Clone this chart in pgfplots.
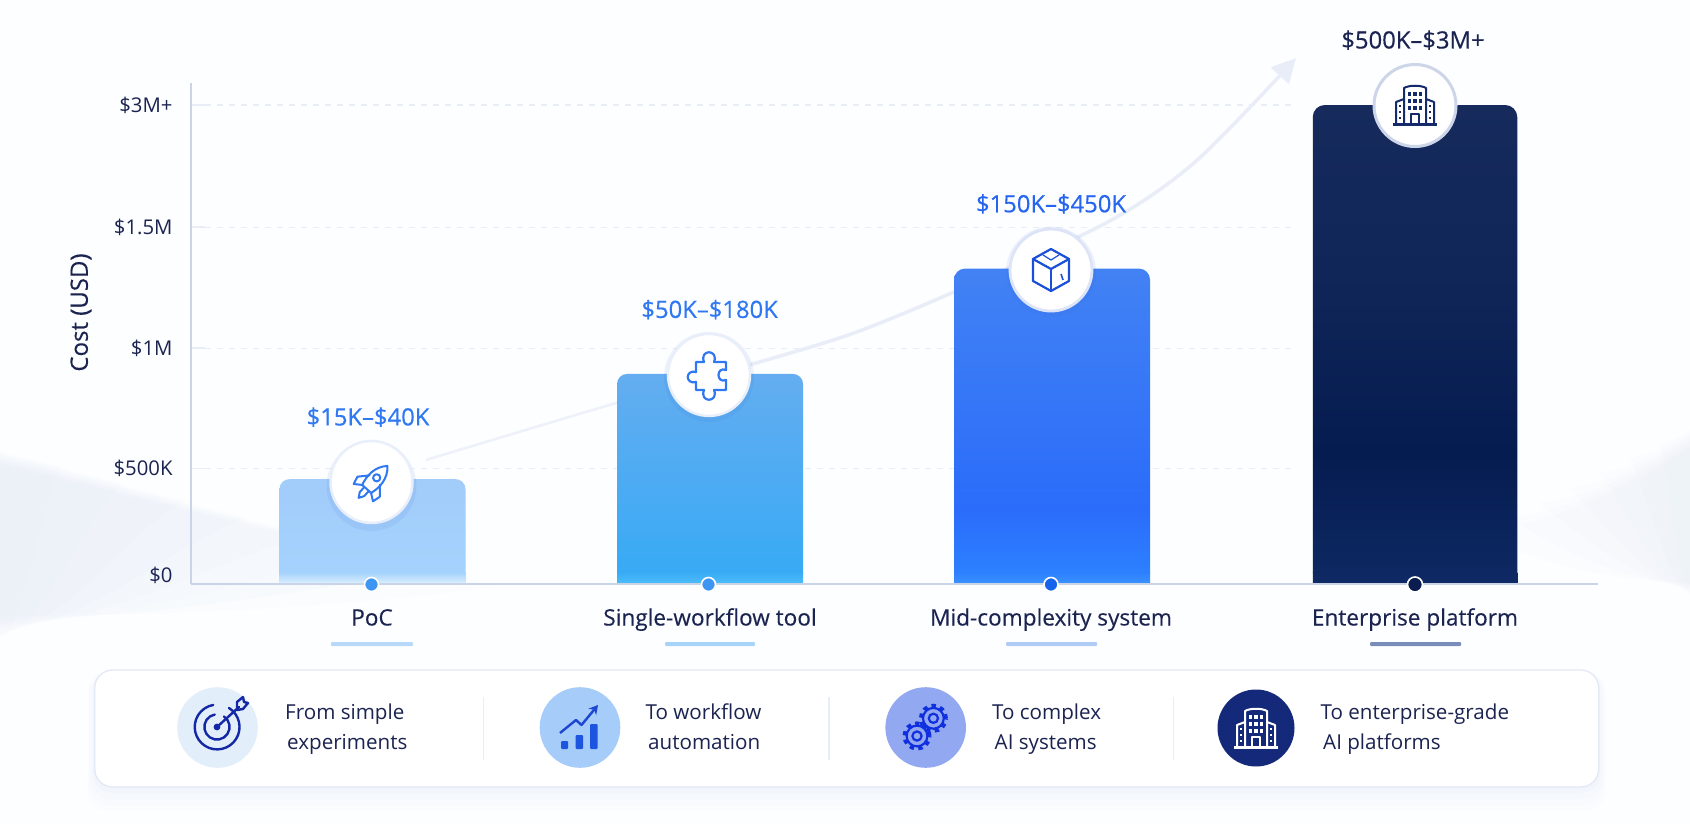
\documentclass[border=0pt]{standalone}
\usepackage{pgfplots}
\pgfplotsset{compat=1.18}
\usepackage{fontspec}
\setmainfont{Open Sans}
\newfontfamily\med[FakeBold=0.25]{Open Sans}
\newfontfamily\semi[FakeBold=0.45]{Open Sans}
\usetikzlibrary{arrows.meta,calc}
\definecolor{pagebg}{HTML}{FDFEFF}
\definecolor{ink}{HTML}{1B2350}
\definecolor{axisc}{HTML}{CBD3E6}
\definecolor{gridc}{HTML}{E9EDF5}
\definecolor{labblue}{HTML}{2F78F2}
\definecolor{labblueb}{HTML}{2665F0}
\definecolor{curvea}{HTML}{EDF1FA}
\definecolor{curvec}{HTML}{E8EDF8}
\definecolor{swoosh}{HTML}{E4ECF8}
\definecolor{navy}{HTML}{14297A}
\definecolor{aT}{HTML}{A2CCFA}\definecolor{aB}{HTML}{A4D2FD}\definecolor{aE}{HTML}{DCF0FE}
\definecolor{bT}{HTML}{64ADF0}\definecolor{bB}{HTML}{38AAF5}\definecolor{bE}{HTML}{4EBEFA}
\definecolor{cT}{HTML}{4282F4}\definecolor{cM}{HTML}{2B6CFA}\definecolor{cB}{HTML}{2C80FF}\definecolor{cE}{HTML}{3C92FF}
\definecolor{dT}{HTML}{162A5C}\definecolor{dM}{HTML}{0F2558}\definecolor{dB}{HTML}{051C50}\definecolor{dL}{HTML}{0D2862}\definecolor{dE}{HTML}{0F2A66}
\pgfdeclareverticalshading{barA}{100bp}{color(0bp)=(aE);color(25bp)=(aE);color(30.7bp)=(aB);color(75bp)=(aT);color(100bp)=(aT)}
\pgfdeclareverticalshading{barB}{100bp}{color(0bp)=(bE);color(25bp)=(bE);color(27.85bp)=(bB);color(75bp)=(bT);color(100bp)=(bT)}
\pgfdeclareverticalshading{barC}{100bp}{color(0bp)=(cE);color(25bp)=(cE);color(26.9bp)=(cB);color(37bp)=(cM);color(75bp)=(cT);color(100bp)=(cT)}
\pgfdeclareverticalshading{barD}{100bp}{color(0bp)=(dE);color(25bp)=(dE);color(26.25bp)=(dL);color(38.5bp)=(dB);color(55bp)=(dM);color(75bp)=(dT);color(100bp)=(dT)}
\definecolor{shad}{HTML}{285AC8}
\definecolor{ringa}{HTML}{E8EEFA}\definecolor{ringb}{HTML}{DEE4F8}\definecolor{ringc}{HTML}{CDD5E8}
\definecolor{dota}{HTML}{3E96F2}\definecolor{dotb}{HTML}{1664EB}\definecolor{dotc}{HTML}{0A1C50}
\definecolor{cuba}{HTML}{1A50D8}\definecolor{buil}{HTML}{142A6A}
\definecolor{rula}{HTML}{B8D8F8}\definecolor{rulb}{HTML}{A8D4F8}\definecolor{rulc}{HTML}{B0CCF5}\definecolor{muld}{HTML}{7A8DB8}
\definecolor{panelb}{HTML}{E3E8F5}\definecolor{panels}{HTML}{7896DC}\definecolor{divc}{HTML}{E9EDF6}
\definecolor{cira}{HTML}{E3EEFB}\definecolor{cirb}{HTML}{A6CCFA}\definecolor{circ}{HTML}{92A8F0}
\definecolor{tgt}{HTML}{1428A5}\definecolor{chb}{HTML}{1D55E0}\definecolor{chl}{HTML}{1D46D2}\definecolor{gea}{HTML}{1030E0}
% ---- icons, drawn about the local origin (y up)
\newcommand{\rocket}[1]{\begin{scope}[line width=2pt,draw=#1,line join=round,line cap=round,rotate=-42]
 \draw (0,23) .. controls (9,14) and (9,2) .. (6,-8) -- (-6,-8) .. controls (-9,2) and (-9,14) .. (0,23) -- cycle;
 \draw (0,7) circle (3.6);
 \draw (-7,4) -- (-15,-5) -- (-13,-13) -- (-6,-8);
 \draw (7,4) -- (15,-5) -- (13,-13) -- (6,-8);
 \draw (-3,-9) -- (-3,-15) -- (0,-20) -- (3,-15) -- (3,-9);
\end{scope}}
\newcommand{\puzzle}[1]{\draw[line width=2.2pt,draw=#1,line join=round]
 (-13,13) -- (-5,13) .. controls (-10,26) and (10,26) .. (5,13) -- (17,13) -- (17,5) .. controls (7,9) and (7,-9) .. (17,-5) -- (17,-15) -- (5,-15) .. controls (10,-28) and (-10,-28) .. (-5,-15) -- (-13,-15) -- (-13,-7) .. controls (-24,-10) and (-24,6) .. (-13,3) -- cycle;}
\newcommand{\cube}[1]{\begin{scope}[line width=2.2pt,draw=#1,line join=round]
 \draw (0,21) -- (18,11) -- (18,-11) -- (0,-21) -- (-18,-11) -- (-18,11) -- cycle;
 \draw (-18,11) -- (0,1) -- (18,11);
 \draw (0,1) -- (0,-21);
 \draw[line width=1.2pt] (-8,15) -- (0,10) -- (8,15);
 \draw[line width=1.6pt] (10,-4) -- (12,-10);
\end{scope}}
\newcommand{\building}[1]{\begin{scope}[line width=2pt,draw=#1,line join=round]
 \draw (-11,-19) -- (-11,17) .. controls (-6,20) and (6,20) .. (11,17) -- (11,-19);
 \draw (-11,6) -- (-19,3) -- (-19,-19);
 \draw (11,6) -- (19,3) -- (19,-19);
 \draw[line width=2.4pt] (-22,-19.5) -- (22,-19.5);
 \draw (-4,-19) -- (-4,-9) -- (4,-9) -- (4,-19);
 \foreach \a in {-5.5,0,5.5} \foreach \b in {11,4,-3} \fill[#1] (\a-1.6,\b-1.6) rectangle +(3.2,3.2);
 \foreach \b in {-1,-7,-13} {\fill[#1] (-16.3,\b-1.3) rectangle +(2.6,2.6); \fill[#1] (13.7,\b-1.3) rectangle +(2.6,2.6);}
\end{scope}}
\newcommand{\gear}[2]{\draw[#1,line width=4.5pt,dash pattern=on 4.2pt off 4.2pt] (0,0) circle (12.3);
 \draw[#1,line width=2.2pt,fill=#2] (0,0) circle (10.4);
 \draw[#1,line width=2.2pt] (0,0) circle (4.6);}
\begin{document}
\begin{tikzpicture}[x=1pt,y=1pt]
\path[use as bounding box,fill=pagebg] (0,0) rectangle (1690,-824);
% background swooshes: stacked faint layers, each one shorter than the last
\foreach \k in {1,...,8}
 \fill[swoosh,opacity=.10] (0,-450-\k*2) .. controls (\k*22,-450-\k*7) and (\k*45,-450-\k*13) .. (\k*62,-450-\k*17) .. controls (\k*45,-470-\k*17) and (\k*22,-640+\k*3) .. (0,-640+\k*3) -- cycle;
\foreach \k in {1,...,7}
 \fill[swoosh,opacity=.09] (1690,-428-\k*3) .. controls (1690-\k*10,-428-\k*9) and (1690-\k*18,-428-\k*13) .. (1690-\k*30,-428-\k*15) .. controls (1690-\k*22,-460-\k*15) and (1690-\k*10,-596+\k*2) .. (1690,-596+\k*2) -- cycle;
\begin{axis}[
  at={(191pt,-584pt)},anchor=south west,
  scale only axis,width=1407pt,height=501pt,
  xmin=191,xmax=1598,ymin=0,ymax=2092,
  clip=false,
  axis lines=left,
  axis line style={-,draw=axisc,line width=1.8pt},
  tick align=inside,
  major tick length=14pt,
  ytick={0,482,985,1490,2000},
  yticklabels={\raisebox{18pt}{\$0},\$500K,\$1M,\$1.5M,\$3M+},
  y tick style={draw=gridc,line width=1.5pt},
  x tick style={draw=none},
  xtick={372,710,1051,1415},
  xticklabels={PoC,Single-workflow tool,Mid-complexity system,Enterprise platform},
  yticklabel style={font=\fontsize{20.3}{21}\selectfont,text=ink,anchor=east,xshift=-15pt},
  xticklabel style={font=\med\fontsize{22.6}{24}\selectfont,text=ink,anchor=center,yshift=-36pt,text height=16pt,text depth=5pt},
  ylabel={},
]
% gridlines
\addplot[gridc,line width=1.2pt,dash pattern=on 6pt off 6pt] coordinates {(205,482)(1297,482)};
\addplot[gridc,line width=1.2pt,dash pattern=on 6pt off 6pt] coordinates {(205,985)(1297,985)};
\addplot[gridc,line width=1.2pt,dash pattern=on 6pt off 6pt] coordinates {(205,1490)(1297,1490)};
\addplot[gridc,line width=1.2pt,dash pattern=on 6pt off 6pt] coordinates {(205,2000)(1297,2000)};
% rising curve
\addplot[curvea,line width=2.5pt,smooth] coordinates {(426,518)(609,747)(720,880)};
\addplot[curvec,line width=3.5pt,smooth,-{Triangle[length=24pt,width=24pt]}] coordinates {(720,880)(845,1035)(947,1207)(1104,1503)(1195,1762)(1296,2196)};
% bars
\addplot[ybar,bar width=186pt,bar shift=0pt,draw=none,shade,shading=barA,rounded corners=10pt] coordinates {(372.5,438)};
\addplot[ybar,bar width=186pt,bar shift=0pt,draw=none,shade,top color=aB,bottom color=aE] coordinates {(372.5,50)};
\addplot[ybar,bar width=186pt,bar shift=0pt,draw=none,shade,shading=barB,rounded corners=10pt] coordinates {(710,877)};
\addplot[ybar,bar width=186pt,bar shift=0pt,draw=none,shade,top color=bB,bottom color=bE] coordinates {(710,50)};
\addplot[ybar,bar width=196pt,bar shift=0pt,draw=none,shade,shading=barC,rounded corners=11pt] coordinates {(1052,1317)};
\addplot[ybar,bar width=196pt,bar shift=0pt,draw=none,shade,top color=cB,bottom color=cE] coordinates {(1052,50)};
\addplot[ybar,bar width=204.5pt,bar shift=0pt,draw=none,shade,shading=barD,rounded corners=12pt] coordinates {(1415,2000)};
\addplot[ybar,bar width=204.5pt,bar shift=0pt,draw=none,shade,top color=dL,bottom color=dE] coordinates {(1415,50)};
% x-axis line again over the bar feet
\addplot[axisc,line width=1.8pt] coordinates {(191,0)(1598,0)};
% shadows and icon discs on the bar tops
\addplot[only marks,mark=*,mark size=45pt,mark options={draw=shad,draw opacity=0,fill=shad,fill opacity=.08,yshift=-3pt}] coordinates {(371.5,422)(709,877)(1051,1317)};
\addplot[only marks,mark=*,mark size=41pt,mark options={draw=ringa,fill=white,line width=2.5pt}] coordinates {(371.5,426)(709,873)};
\addplot[only marks,mark=*,mark size=41pt,mark options={draw=ringb,fill=white,line width=2.8pt}] coordinates {(1051,1311)};
\addplot[only marks,mark=*,mark size=41pt,mark options={draw=ringc,fill=white,line width=3pt}] coordinates {(1415,1998)};
% baseline dots
\addplot[only marks,mark=*,mark size=7pt,mark options={draw=white,line width=1.6pt,fill=dota}] coordinates {(371.5,-2)(708.5,-2)};
\addplot[only marks,mark=*,mark size=7pt,mark options={draw=white,line width=1.6pt,fill=dotb}] coordinates {(1051,-2)};
\addplot[only marks,mark=*,mark size=7.5pt,mark options={draw=white,line width=1.6pt,fill=dotc}] coordinates {(1415,-2)};
% value labels
\node[font=\semi\fontsize{23.8}{25}\selectfont,text=labblue] at (axis cs:368,697) {\$15K–\$40K};
\node[font=\semi\fontsize{23.8}{25}\selectfont,text=labblue] at (axis cs:709.6,1146) {\$50K–\$180K};
\node[font=\semi\fontsize{23.8}{25}\selectfont,text=labblueb] at (axis cs:1051,1587) {\$150K–\$450K};
\node[font=\semi\fontsize{23.8}{25}\selectfont,text=ink] at (axis cs:1413,2271) {\$500K–\$3M+};
\end{axis}
% y title
\node[rotate=90,font=\med\fontsize{24}{26}\selectfont,text=ink] at (81,-312.5) {Cost (USD)};
% icons over the discs
\begin{scope}[shift={(372,-483)}]\rocket{labblue}\end{scope}
\begin{scope}[shift={(709,-375)}]\puzzle{labblue}\end{scope}
\begin{scope}[shift={(1051,-270)}]\cube{cuba}\end{scope}
\begin{scope}[shift={(1415,-105)}]\building{buil}\end{scope}
% short rules under the category names
\fill[rounded corners=1pt,rula] (331,-642) rectangle (413,-646);
\fill[rounded corners=1pt,rulb] (665,-642) rectangle (755,-646);
\fill[rounded corners=1pt,rulc] (1006,-642) rectangle (1097,-646);
\fill[rounded corners=1pt,muld] (1370,-642) rectangle (1461,-646);
% panel
\foreach \d/\o in {12/.012,9/.015,6/.02,3/.025}
  \fill[panels,opacity=\o,rounded corners=20pt] (94.7-\d*.6,-672) rectangle (1598.7+\d*.6,-787-\d*2);
\draw[fill=white,draw=panelb,line width=1.3pt,rounded corners=18pt] (94.7,-670) rectangle (1598.7,-787);
\foreach \x in {483.5,829,1173.7} \draw[divc,line width=1.2pt] (\x,-697) -- (\x,-760);
\fill[cira] (217.5,-727.5) circle (40.3);
\fill[cirb] (580,-727.5) circle (40.3);
\fill[circ] (925.7,-727.5) circle (40.3);
\fill[navy] (1256,-728) circle (38.5);
% target
\begin{scope}[shift={(217,-727)},line width=2.4pt,draw=tgt,line cap=round]
 \draw (12,19) arc (58:-260:22.4);
 \draw (7,10.5) arc (56:-260:12.6);
 \fill[tgt] (0,0) circle (3.4);
 \draw (0,0) -- (22,20);
 \draw[line join=round] (20,17) -- (20,25) -- (26,30) -- (27,25) -- (31,24) -- (26,18) -- cycle;
\end{scope}
% rising chart
\begin{scope}[shift={(580,-727)}]
 \fill[chb,rounded corners=1pt] (-19,-22) rectangle (-12,-14);
 \fill[chb,rounded corners=1pt] (-4.5,-22) rectangle (3,-8);
 \fill[chb,rounded corners=1pt] (10,-22) rectangle (17.5,3);
 \draw[chl,line width=2.4pt,line join=round,-{Stealth[length=9pt,width=10pt]}] (-20,-6) -- (-4,7) -- (1.5,2) -- (18,22);
\end{scope}
% gears
\begin{scope}[shift={(933.4,-718.3)}]\gear{gea}{circ}\end{scope}
\begin{scope}[shift={(917,-736)}]\gear{gea}{circ}\end{scope}
% building
\begin{scope}[shift={(1256,-728)}]\building{white}\end{scope}
% panel texts
\begin{scope}[every node/.style={anchor=base west,inner sep=0pt,font=\fontsize{20.6}{23}\selectfont,text=ink}]
 \node at (285,-719) {From simple};
 \node at (287,-749) {experiments};
 \node at (645.5,-719) {To workflow};
 \node at (648,-749) {automation};
 \node at (992,-719) {To complex};
 \node at (994.5,-749) {AI systems};
 \node at (1320.5,-719) {To enterprise-grade};
 \node at (1323,-749) {AI platforms};
\end{scope}
\end{tikzpicture}
\end{document}
